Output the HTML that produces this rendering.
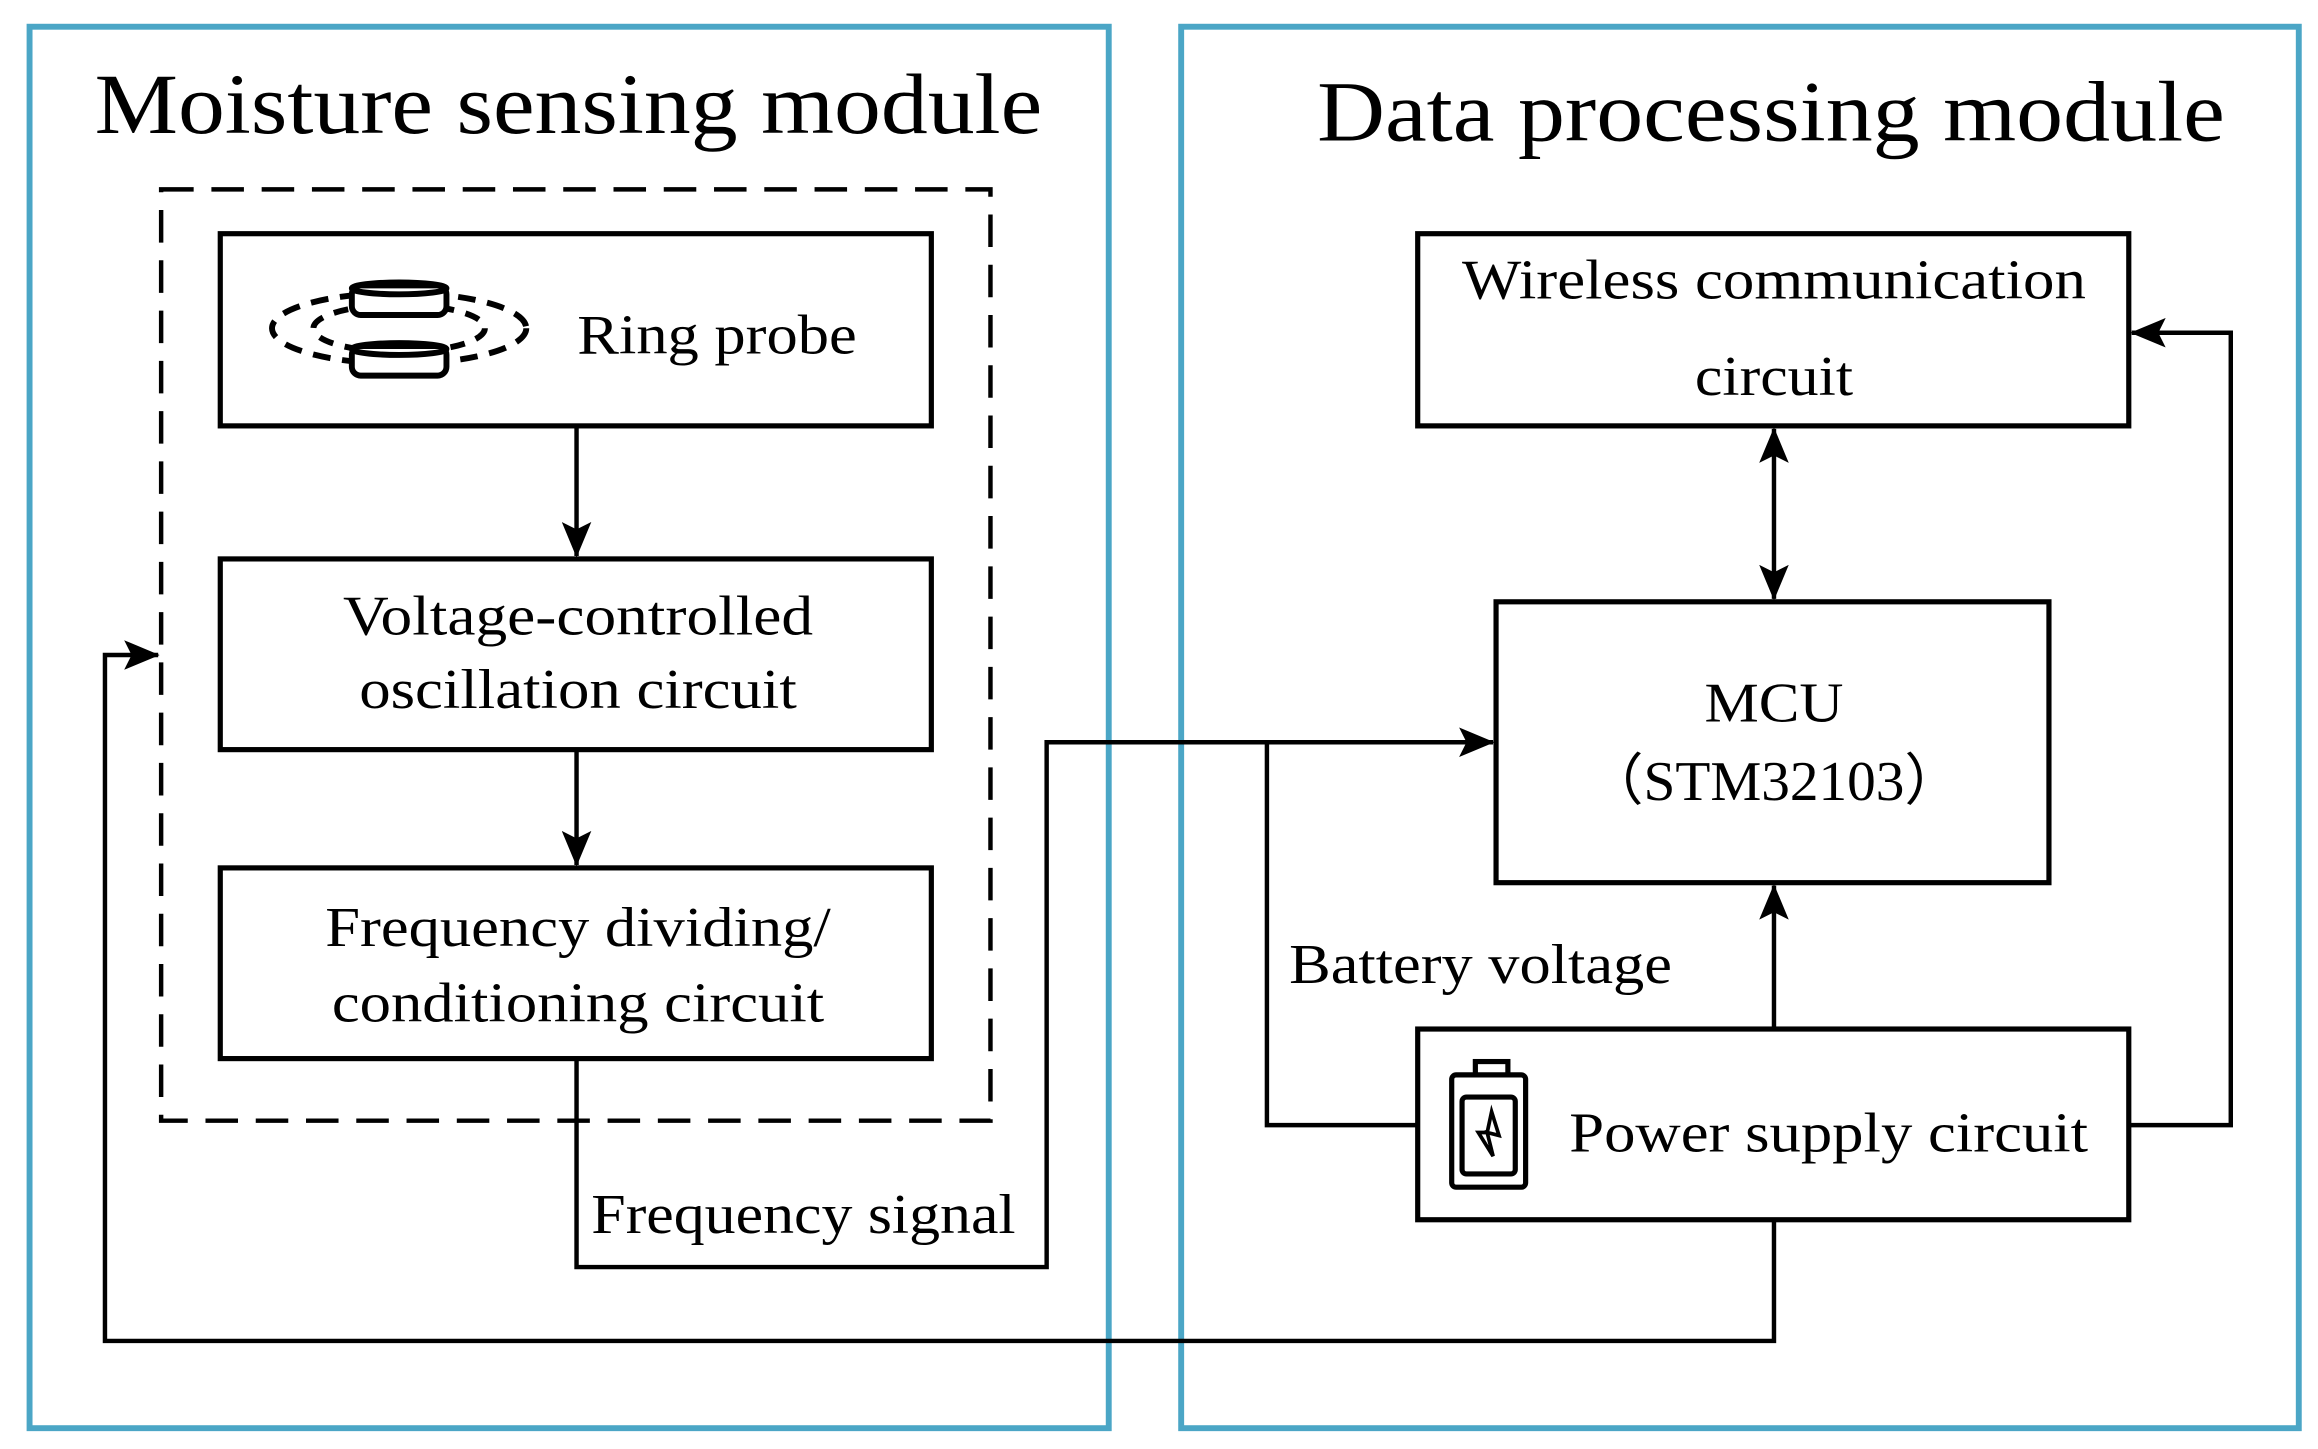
<!DOCTYPE html>
<html><head><meta charset="utf-8"><style>html,body{margin:0;padding:0;background:#fff}svg{display:block}</style></head>
<body>
<svg width="2318" height="1449" viewBox="0 0 1568 980" xmlns="http://www.w3.org/2000/svg" style="font-family:'Liberation Serif',serif" fill="none">
<defs>
<marker id="b" viewBox="0 0 24 20" refX="23" refY="10" markerWidth="24" markerHeight="20" orient="auto-start-reverse" markerUnits="userSpaceOnUse"><path d="M0,0 L24,10 L0,20 L5,10z" fill="#000"/></marker></defs>
<rect x="20" y="18" width="730" height="948" stroke="#4BA6C6" stroke-width="4"/>
<rect x="799" y="18" width="756" height="948" stroke="#4BA6C6" stroke-width="4"/>
<g fill="#000" font-size="58">
<text x="64" y="90" textLength="641" lengthAdjust="spacingAndGlyphs">Moisture sensing module</text>
<text x="891" y="95" textLength="614" lengthAdjust="spacingAndGlyphs">Data processing module</text>
</g>
<rect x="109" y="128" width="561" height="630" stroke="#000" stroke-width="3" stroke-dasharray="22,12"/>
<g stroke="#000" stroke-width="3.5">
<rect x="149" y="158" width="481" height="130"/>
<rect x="149" y="378" width="481" height="129"/>
<rect x="149" y="587" width="481" height="129"/>
<rect x="959" y="158" width="481" height="130"/>
<rect x="1012" y="407" width="374" height="190"/>
<rect x="959" y="696" width="481" height="129"/>
</g>
<g stroke="#000" stroke-width="3">
<line x1="390" y1="288" x2="390" y2="376" marker-end="url(#b)"/>
<line x1="390" y1="507" x2="390" y2="585" marker-end="url(#b)"/>
<polyline points="390,716 390,857 708,857 708,502 1010,502" marker-end="url(#b)"/>
<polyline points="1200,825 1200,907 71,907 71,443 107,443" marker-end="url(#b)"/>
<line x1="1200" y1="290" x2="1200" y2="405" marker-start="url(#b)" marker-end="url(#b)"/>
<line x1="1200" y1="696" x2="1200" y2="599" marker-end="url(#b)"/>
<polyline points="857,502 857,761 959,761"/>
<polyline points="1440,761 1509,761 1509,225 1442,225" marker-end="url(#b)"/>
</g>
<g stroke="#000" stroke-width="4">
<ellipse cx="270" cy="222" rx="86" ry="24" stroke-dasharray="12,8"/>
<ellipse cx="270" cy="222" rx="58" ry="16" stroke-dasharray="10,8"/>
<rect x="238" y="193" width="64" height="20" rx="6" fill="#fff"/>
<ellipse cx="270" cy="195" rx="32" ry="4"/>
<rect x="238" y="234" width="64" height="20" rx="6" fill="#fff"/>
<ellipse cx="270" cy="236" rx="32" ry="4"/>
</g>
<g stroke="#000" stroke-width="3.5">
<rect x="998" y="718" width="22" height="10"/>
<rect x="982" y="727" width="50" height="76" rx="3" fill="#fff"/>
<rect x="989" y="742" width="36" height="52" rx="3"/>
<path d="M1009,752 L1014,768 L1006,766 L1010,782 L1000,766 L1006,766 z" stroke-width="2.5"/>
</g>
<g fill="#000" font-size="38" text-anchor="middle">
<text x="485" y="239" textLength="189" lengthAdjust="spacingAndGlyphs">Ring probe</text>
<text x="391" y="429" textLength="318" lengthAdjust="spacingAndGlyphs">Voltage-controlled</text>
<text x="391" y="479" textLength="296" lengthAdjust="spacingAndGlyphs">oscillation circuit</text>
<text x="391" y="640" textLength="342" lengthAdjust="spacingAndGlyphs">Frequency dividing/</text>
<text x="391" y="691" textLength="333" lengthAdjust="spacingAndGlyphs">conditioning circuit</text>
<text x="1200" y="202" textLength="422" lengthAdjust="spacingAndGlyphs">Wireless communication</text>
<text x="1200" y="267" textLength="107" lengthAdjust="spacingAndGlyphs">circuit</text>
<text x="1200" y="488" textLength="94" lengthAdjust="spacingAndGlyphs">MCU</text>
<text x="1200" y="541" textLength="254" lengthAdjust="spacingAndGlyphs">（STM32103）</text>
<text x="1237" y="779" textLength="351" lengthAdjust="spacingAndGlyphs">Power supply circuit</text>
</g>
<g fill="#000" font-size="38">
<text x="872" y="665" textLength="259" lengthAdjust="spacingAndGlyphs">Battery voltage</text>
<text x="400" y="834" textLength="287" lengthAdjust="spacingAndGlyphs">Frequency signal</text>
</g>
</svg>
</body></html>
